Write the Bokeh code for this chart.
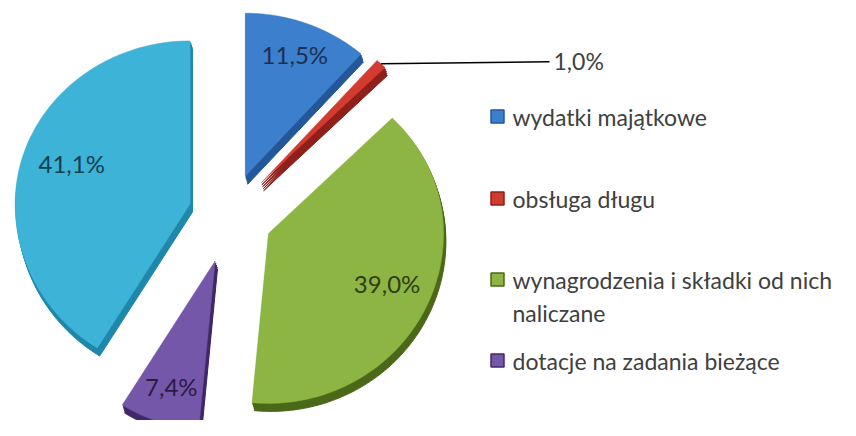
import numpy as np
from bokeh.plotting import figure
from bokeh.models import Range1d
from bokeh.core.properties import value
from bokeh.embed import file_html
from bokeh.resources import INLINE

# ---- data ----
categories = ["wydatki majątkowe", "obsługa długu",
              "wynagrodzenia i składki od nich\nnaliczane",
              "dotacje na zadania bieżące", "pozostałe wydatki bieżące"]
values = [11.5, 1.0, 39.0, 7.4, 41.1]
pct_labels = ["11,5%", "1,0%", "39,0%", "7,4%", "41,1%"]
in_legend = [True, True, True, True, False]

# ---- style ----
colors = ["#3c7fcc", "#d33a30", "#8db543", "#7457a8", "#3db3d7"]
side_colors = ["#23579a", "#8e1f1a", "#4b6818", "#3f2868", "#1e87aa"]
label_colors = ["#1b2f55", "#404040", "#2d3d12", "#2a1b45", "#12404f"]
explode = [42, 45, 42, 48, 42]
label_r = [0.80, 0.0, 0.74, 0.78, 0.72]
label_dang = [0, 0, 1.5, 0, -4]
FONT = "Lato"

W, H = 840, 420
p = figure(width=W, height=H, output_backend="svg", toolbar_location=None,
           x_range=Range1d(0, W), y_range=Range1d(0, H), min_border=0)
p.axis.visible = False
p.grid.visible = False
p.outline_line_color = None
p.background_fill_color = "white"

cx, cy = 230.0, 205.0
rx, ry_top, ry_bot = 175.0, 163.0, 170.0
depth_steps = [(0.7, -2), (1.4, -4), (2.0, -6), (2.4, -8)]

total = sum(values)
cum = np.concatenate([[0], np.cumsum(values)])
starts = 90 - 360 * cum[:-1] / total
ends = 90 - 360 * cum[1:] / total


def ell(t):
    s = np.sin(t)
    return rx * np.cos(t), np.where(s >= 0, ry_top, ry_bot) * s


tops_x, tops_y, centers, mids = [], [], [], []
for i in range(len(values)):
    m = np.radians((starts[i] + ends[i]) / 2)
    ccx = cx + explode[i] * np.cos(m)
    ccy = cy + explode[i] * np.sin(m)
    t = np.radians(np.linspace(starts[i], ends[i], 120))
    ex, ey = ell(t)
    tops_x.append(np.concatenate([[ccx], ccx + ex]))
    tops_y.append(np.concatenate([[ccy], ccy + ey]))
    centers.append((ccx, ccy))
    mids.append(m)

# side (depth) of the 3D slices
for dx, dy in depth_steps:
    p.patches([list(x + dx) for x in tops_x], [list(y + dy) for y in tops_y],
              fill_color=side_colors, line_color=side_colors, line_width=1)
# top faces
p.patches([list(x) for x in tops_x], [list(y) for y in tops_y],
          fill_color=colors, line_color=colors, line_width=0.5)

# inner labels
lx, ly, lt, lc = [], [], [], []
for i in range(len(values)):
    if values[i] < 3:
        continue
    ccx, ccy = centers[i]
    ex, ey = ell(mids[i] + np.radians(label_dang[i]))
    lx.append(ccx + label_r[i] * ex)
    ly.append(ccy + label_r[i] * float(ey))
    lt.append(pct_labels[i])
    lc.append(label_colors[i])
p.text(x=lx, y=ly, text=lt, text_color=lc, text_font=value(FONT),
       text_font_size="24px", text_align="center", text_baseline="middle")

# outside label with leader for the small slice
for i in range(len(values)):
    if values[i] >= 3:
        continue
    ccx, ccy = centers[i]
    ex, ey = ell(mids[i])
    x0, y0 = ccx + ex, ccy + float(ey)
    x1 = 549
    p.line([x0, x1], [y0, y0 + 2], line_color="black", line_width=1.5)
    p.text(x=[x1 + 4], y=[y0 + 3], text=[pct_labels[i]], text_color="#404040",
           text_font=value(FONT), text_font_size="23px",
           text_align="left", text_baseline="middle")

# legend
leg_y = [304, 222, 141, 60]
line_gap = 33
mx, my, mc, mlc = [], [], [], []
tx, ty, tt = [], [], []
k = 0
for i in range(len(values)):
    if not in_legend[i]:
        continue
    mx.append(497)
    my.append(leg_y[k])
    mc.append(colors[i])
    mlc.append(side_colors[i])
    for j, line in enumerate(categories[i].split("\n")):
        tx.append(512)
        ty.append(leg_y[k] - line_gap * j)
        tt.append(line)
    k += 1
p.scatter(x=mx, y=my, marker="square", size=13, fill_color=mc, line_color=mlc,
          line_width=1.5)
p.text(x=tx, y=ty, text=tt, text_color="#404040", text_font=value(FONT),
       text_font_size="23px", text_align="left", text_baseline="middle")

open("out.html", "w").write(file_html(p, INLINE))
